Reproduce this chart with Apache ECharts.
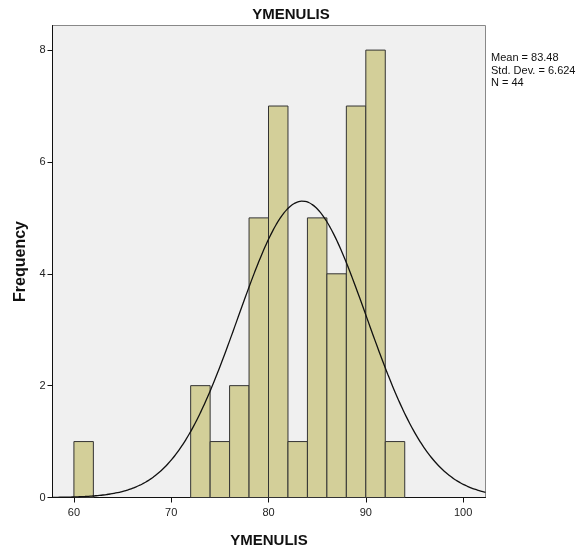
<!DOCTYPE html>
<html>
<head>
<meta charset="utf-8">
<script src="https://cdn.jsdelivr.net/npm/echarts@6/dist/echarts.min.js"></script>
<style>
html,body{margin:0;padding:0;background:#fff;}
#chart{width:578px;height:555px;}
</style>
</head>
<body>
<div id="chart"></div>
<script>
// Histogram data (bin start values, width 2)
const binStarts = [60, 72, 74, 76, 78, 80, 82, 84, 86, 88, 90, 92];
const counts    = [1,  2,  1,  2,  5,  7,  1,  5,  4,  7,  8,  1];
const binWidth = 2;
const xTicks = [60, 70, 80, 90, 100];
const yTicks = [0, 2, 4, 6, 8];
const statMean = 83.48;
const statSD = 6.624;
const statN = 44;
const statsLines = ['Mean = 83.48', 'Std. Dev. = 6.624', 'N = 44'];

const xMin = 57.8, xMax = 102.3, yMax = 8.44;

// fitted normal curve from the reported statistics
const curve = [];
const steps = 120;
for (let i = 0; i <= steps; i++) {
  const x = xMin + (xMax - xMin) * i / steps;
  const z = (x - statMean) / statSD;
  const y = statN * binWidth / (statSD * Math.sqrt(2 * Math.PI)) * Math.exp(-0.5 * z * z);
  curve.push([x, y]);
}

const barData = binStarts.map((s, i) => [s, s + binWidth, counts[i]]);

const chart = echarts.init(document.getElementById('chart'));
const font = 'Arial, "Liberation Sans", sans-serif';
chart.setOption({
  animation: false,
  backgroundColor: '#ffffff',
  title: {
    text: 'YMENULIS',
    left: 286, top: 2, textAlign: 'center',
    textStyle: {fontFamily: font, fontSize: 15, fontWeight: 'bold', color: '#111'}
  },
  graphic: [{
    type: 'text', left: 491, top: 52,
    style: {text: statsLines.join('\n'), fontFamily: font, fontSize: 11, lineHeight: 12.5, fill: '#111'}
  }],
  grid: {
    left: 52.5, top: 25.5, width: 433, height: 472,
    show: true, backgroundColor: '#f0f0f0', borderColor: '#888', borderWidth: 1
  },
  xAxis: {
    type: 'value', min: xMin, max: xMax,
    name: 'YMENULIS', nameLocation: 'middle', nameGap: 36,
    nameTextStyle: {fontFamily: font, fontSize: 15, fontWeight: 'bold', color: '#111'},
    splitLine: {show: false},
    axisLine: {show: true, lineStyle: {color: '#111', width: 1}},
    axisTick: {show: true, length: 5, lineStyle: {color: '#111'}, customValues: xTicks},
    axisLabel: {customValues: xTicks, fontFamily: font, fontSize: 11, color: '#222', margin: 10}
  },
  yAxis: {
    type: 'value', min: 0, max: yMax,
    name: 'Frequency', nameLocation: 'middle', nameGap: 17,
    nameTextStyle: {fontFamily: font, fontSize: 16, fontWeight: 'bold', color: '#111'},
    splitLine: {show: false},
    axisLine: {show: true, lineStyle: {color: '#111', width: 1}},
    axisTick: {show: true, length: 5, lineStyle: {color: '#111'}, customValues: yTicks},
    axisLabel: {customValues: yTicks, fontFamily: font, fontSize: 11, color: '#222', margin: 7}
  },
  series: [{
    type: 'custom',
    data: barData,
    encode: {x: [0, 1], y: 2},
    renderItem: function (params, api) {
      const p0 = api.coord([api.value(0), api.value(2)]);
      const p1 = api.coord([api.value(1), 0]);
      return {
        type: 'rect',
        shape: {x: p0[0], y: p0[1], width: p1[0] - p0[0], height: p1[1] - p0[1]},
        style: {fill: '#d3cf99', stroke: '#333', lineWidth: 1}
      };
    },
    z: 2
  }, {
    type: 'line',
    data: curve,
    showSymbol: false,
    smooth: true,
    lineStyle: {color: '#111', width: 1.3},
    z: 3
  }]
});
</script>
</body>
</html>
